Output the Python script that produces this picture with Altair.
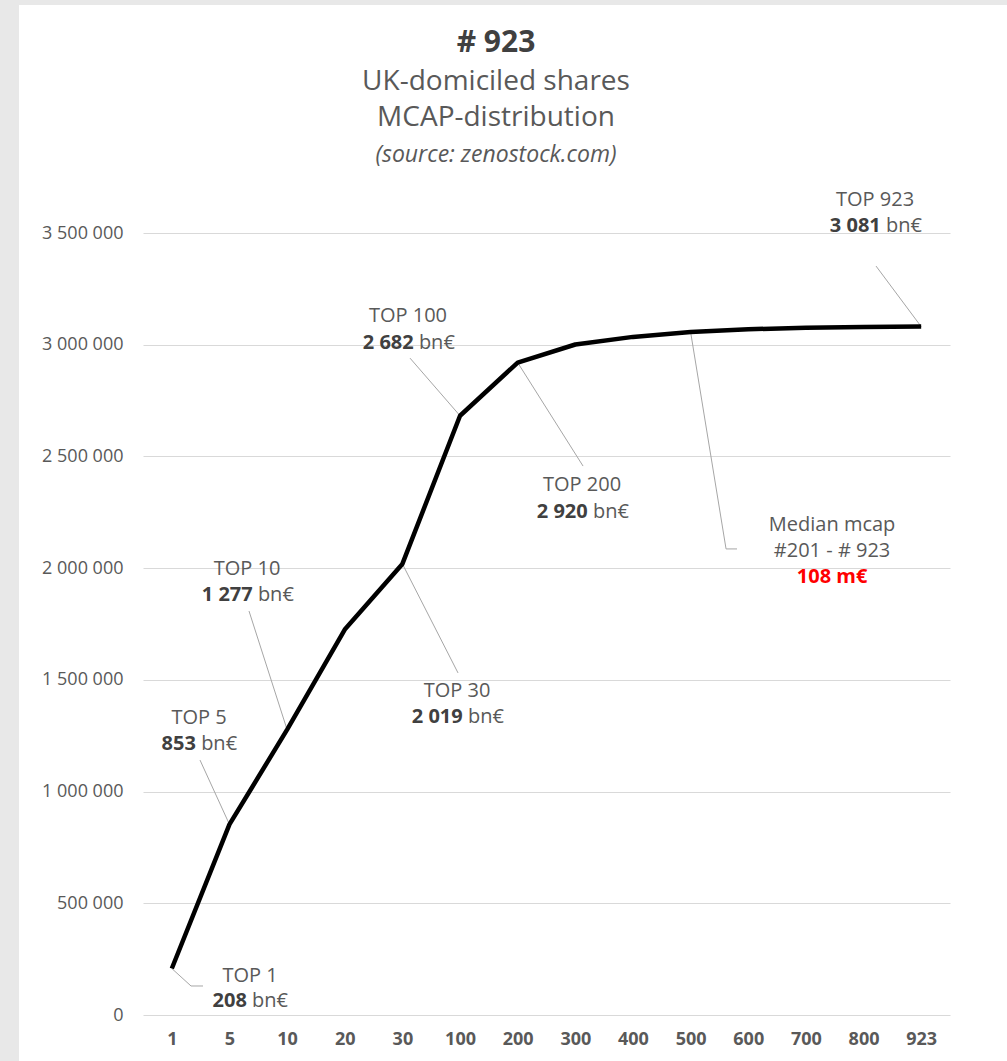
import altair as alt
import pandas as pd

# Cumulative market capitalisation (m€) of UK-domiciled shares, by rank
ranks = ["1", "5", "10", "20", "30", "100", "200", "300", "400", "500", "600", "700", "800", "923"]
cum_mcap = [208000, 853000, 1277000, 1725000, 2019000, 2682000, 2920000,
            3001000, 3035000, 3057000, 3069000, 3076000, 3079000, 3081000]

# Annotated ranks: label anchor (x in rank slots, y in m€) and leader-line far end
top_ranks = ["1", "5", "10", "30", "100", "200", "923"]
label_x = [1.356, 0.472, 1.304, 4.948, 4.097, 7.116, 12.2]
label_y1 = [174500, 1329000, 1996000, 1450000, 3128000, 2372000, 3648000]
label_y2 = [62700, 1213000, 1880000, 1334000, 3008000, 2251000, 3531000]
lead_x = [0.333, 0.489, 1.339, 4.965, 4.132, 7.134, 12.217]
lead_y = [129800, 1141000, 1808000, 1531000, 2940000, 2457000, 3352000]
elbow_x = [0.541, None, None, None, None, None, None]

# Median call-out for ranks #201 - #923
median_rank = "500"
median_text = ["Median mcap", "#201 - # 923"]
median_value = "108 m€"
median_label_x = 11.454
median_label_y = [2193000, 2077000, 1960000]
median_lead = (9.615, 2086000)
median_elbow_x = 9.805

# Heading lines
heading = "# 923"
subheading = ["UK-domiciled shares", "MCAP-distribution"]
source_note = "(source: zenostock.com)"

FONT = "Open Sans"
FS = 20
SLOT_PX = 807 / len(ranks)

line_df = pd.DataFrame({"idx": range(len(ranks)), "rank": ranks, "mcap": cum_mcap})


def fmt_bn(v):
    return f"{round(v / 1000):,}".replace(",", " ")


# leader line segments
segs = []
for r, lx, ly, ex in zip(top_ranks, lead_x, lead_y, elbow_x):
    i = ranks.index(r)
    segs.append({"x": i, "y": cum_mcap[i], "x2": lx, "y2": ly})
    if ex is not None:
        segs.append({"x": lx, "y": ly, "x2": ex, "y2": ly})
mi = ranks.index(median_rank)
segs.append({"x": mi, "y": cum_mcap[mi], "x2": median_lead[0], "y2": median_lead[1]})
segs.append({"x": median_lead[0], "y": median_lead[1], "x2": median_elbow_x, "y2": median_lead[1]})
seg_df = pd.DataFrame(segs)

# text rows: first lines, bold amounts, units
plain_rows, bold_rows, unit_rows = [], [], []
for r, lx, y1, y2 in zip(top_ranks, label_x, label_y1, label_y2):
    amount = fmt_bn(cum_mcap[ranks.index(r)])
    plain_rows.append({"x": lx, "y": y1, "t": f"TOP {r}"})
    wn = (sum(0.28 if c == " " else 0.6 for c in amount)) * FS
    gap = 0.26 * FS
    wu = 1.85 * FS
    split = (wn - gap - wu) / 2
    bold_rows.append({"x": lx + split / SLOT_PX, "y": y2, "t": amount})
    unit_rows.append({"x": lx + (split + gap) / SLOT_PX, "y": y2, "t": "bn€"})
for t, y in zip(median_text, median_label_y[:2]):
    plain_rows.append({"x": median_label_x, "y": y, "t": t})
red_df = pd.DataFrame([{"x": median_label_x, "y": median_label_y[2], "t": median_value}])

x_scale = alt.Scale(domain=[-0.5, len(ranks) - 0.5], nice=False, zero=False)
y_scale = alt.Scale(domain=[0, 3500000], nice=False)

rank_list = "[" + ",".join(f"'{r}'" for r in ranks) + "]"
x_axis = alt.Axis(values=list(range(len(ranks))), labelExpr=f"{rank_list}[datum.value]",
                  grid=False, domain=False, ticks=False, labelPadding=15, labelFontSize=18,
                  labelFontWeight="bold", labelColor="#595959", labelFont=FONT, title=None)
y_axis = alt.Axis(values=list(range(0, 3500001, 500000)),
                  labelExpr="replace(format(datum.value, ','), regexp(',', 'g'), ' ')",
                  grid=True, gridColor="#d9d9d9", gridWidth=1.2, domain=False, ticks=False,
                  labelPadding=20, labelFontSize=18, labelColor="#595959", labelFont=FONT, title=None)

one = pd.DataFrame({"k": [0]})
frame_left = alt.Chart(one).mark_rect(color="#e8e8e8").encode(
    x=alt.value(-143), x2=alt.value(-124), y=alt.value(-233), y2=alt.value(828))
frame_top = alt.Chart(one).mark_rect(color="#e8e8e8").encode(
    x=alt.value(-143), x2=alt.value(864), y=alt.value(-233), y2=alt.value(-228))


def heading_text(text, y, **kw):
    return alt.Chart(one).mark_text(text=text, font=FONT, align="center", baseline="middle", **kw).encode(
        x=alt.value(353), y=alt.value(y))


headings = [
    heading_text(heading, -190, fontSize=30, fontWeight="bold", color="#404040"),
    heading_text(subheading[0], -151, fontSize=28, color="#595959"),
    heading_text(subheading[1], -115, fontSize=28, color="#595959"),
    heading_text(source_note, -78, fontSize=23, fontStyle="italic", color="#595959"),
]

leaders = alt.Chart(seg_df).mark_rule(color="#a6a6a6", strokeWidth=1).encode(
    x=alt.X("x:Q", scale=x_scale), x2="x2:Q",
    y=alt.Y("y:Q", scale=y_scale), y2="y2:Q")

line = alt.Chart(line_df).mark_line(color="black", strokeWidth=4.5, strokeJoin="round").encode(
    x=alt.X("idx:Q", scale=x_scale, axis=x_axis),
    y=alt.Y("mcap:Q", scale=y_scale, axis=y_axis))


def text_layer(df, **kw):
    return alt.Chart(pd.DataFrame(df)).mark_text(font=FONT, fontSize=FS, baseline="middle", **kw).encode(
        x=alt.X("x:Q", scale=x_scale), y=alt.Y("y:Q", scale=y_scale), text="t:N")


plain = text_layer(plain_rows, align="center", color="#595959")
bold = text_layer(bold_rows, align="right", color="#404040", fontWeight="bold")
units = text_layer(unit_rows, align="left", color="#595959")
red = text_layer(red_df, align="center", color="#ff0000", fontWeight="bold")

chart = alt.layer(frame_left, frame_top, *headings, leaders, line, plain, bold, units, red).properties(
    width=807, height=782,
    padding={"left": 143, "top": 233, "right": 57, "bottom": 46},
    autosize=alt.AutoSizeParams(type="none"),
    background="white",
).configure_view(stroke=None)

chart.save("out.html", embed_options={"renderer": "svg", "actions": False})
